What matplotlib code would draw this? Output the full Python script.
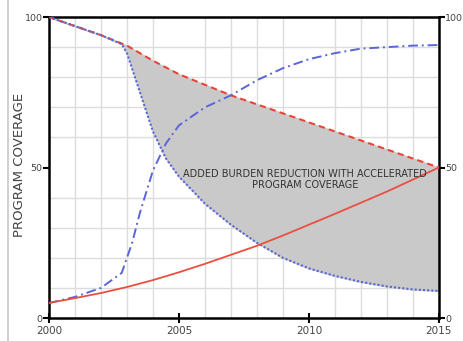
import matplotlib
matplotlib.use("Agg")
import matplotlib.pyplot as plt
import numpy as np

# Data
years_upper = [2000, 2001, 2002, 2003, 2004, 2005, 2006, 2007, 2008, 2009, 2010, 2011, 2012, 2013, 2014, 2015]
upper_dashed = [100, 97, 94, 90.5, 85.5, 81, 77.5, 74, 71, 68, 65, 62, 59, 56, 53, 50]

years_lower = [2000, 2001, 2002, 2002.8, 2003, 2003.5, 2004, 2004.5, 2005, 2006, 2007, 2008, 2009, 2010, 2011, 2012, 2013, 2014, 2015]
lower_dotted = [100, 97, 94, 91, 88, 75, 62, 53, 47, 38, 31, 25, 20, 16.5, 14, 12, 10.5, 9.5, 9]

years_cov = [2000, 2001, 2002, 2002.8, 2003.2, 2003.5, 2004, 2004.5, 2005, 2006, 2007, 2008, 2009, 2010, 2011, 2012, 2013, 2014, 2015]
accel_cov = [5, 7, 10, 15, 25, 35, 49, 58, 64, 70, 74, 79, 83, 86, 88, 89.5, 90, 90.5, 90.7]

years_base = [2000, 2001, 2002, 2003, 2004, 2005, 2006, 2007, 2008, 2009, 2010, 2011, 2012, 2013, 2014, 2015]
base_cov = [5, 6.6, 8.3, 10.3, 12.6, 15.2, 18, 21, 24, 27.4, 31, 34.6, 38.3, 42, 46, 50]

annotation = "ADDED BURDEN REDUCTION WITH ACCELERATED\nPROGRAM COVERAGE"
ylabel = "PROGRAM COVERAGE"
xticks = [2000, 2005, 2010, 2015]
yticks = [0, 50, 100]

FAM = ["Liberation Sans Narrow", "DejaVu Sans"]

fig = plt.figure(figsize=(4.63, 3.41), dpi=100)
ax = fig.add_axes([0.1058, 0.0674, 0.8420, 0.8826])

ax.set_xlim(2000, 2015)
ax.set_ylim(0, 100)

# grid
ax.set_xticks(np.arange(2000, 2016, 1), minor=True)
ax.set_yticks(np.arange(0, 101, 10), minor=True)
ax.grid(which="minor", color="#dcdcdc", linewidth=1.0)
ax.tick_params(which="minor", length=0)
ax.set_axisbelow(True)

# fill between upper dashed and lower dotted
yu = np.interp(years_lower, years_upper, upper_dashed)
ax.fill_between(years_lower, lower_dotted, yu, color="#c9c9c9", zorder=1)

ax.plot(years_upper, upper_dashed, color="#e8453a", linestyle=(0, (3, 2)), linewidth=1.5, zorder=3)
ax.plot(years_lower, lower_dotted, color="#5a66d6", linestyle=(0, (1, 1)), linewidth=1.5, zorder=3)
ax.plot(years_cov, accel_cov, color="#5a66d6", linestyle=(0, (5, 2, 1, 2)), linewidth=1.4, zorder=3)
ax.plot(years_base, base_cov, color="#ea5040", linewidth=1.3, zorder=3)

ax.text(2009.85, 46, annotation, ha="center", va="center", fontsize=7.0,
        family=FAM, color="#333333", linespacing=1.05, zorder=4)

for s in ax.spines.values():
    s.set_color("black")
    s.set_linewidth(1.8)

ax.set_xticks(xticks)
ax.set_yticks(yticks)
ax.tick_params(axis="x", which="major", direction="inout", length=7, width=1.5, labelsize=7.5,
               labelcolor="#444444", pad=2)
ax.tick_params(axis="y", which="major", direction="out", length=4, width=1.5, labelsize=6.8,
               labelcolor="#444444", right=True, labelright=True, pad=0.5)
for lab in ax.get_xticklabels() + ax.get_yticklabels():
    lab.set_family(FAM)
ax.set_ylabel(ylabel, fontsize=9.5, color="#444444", family=FAM)
ax.yaxis.set_label_coords(-0.06, 0.51)

# left frame line of original image
fig.add_artist(plt.Line2D([0.017, 0.017], [0.0, 1.0], color="#c8c8c8", linewidth=1.2,
                          transform=fig.transFigure))

fig.savefig("out.png", dpi=100)
